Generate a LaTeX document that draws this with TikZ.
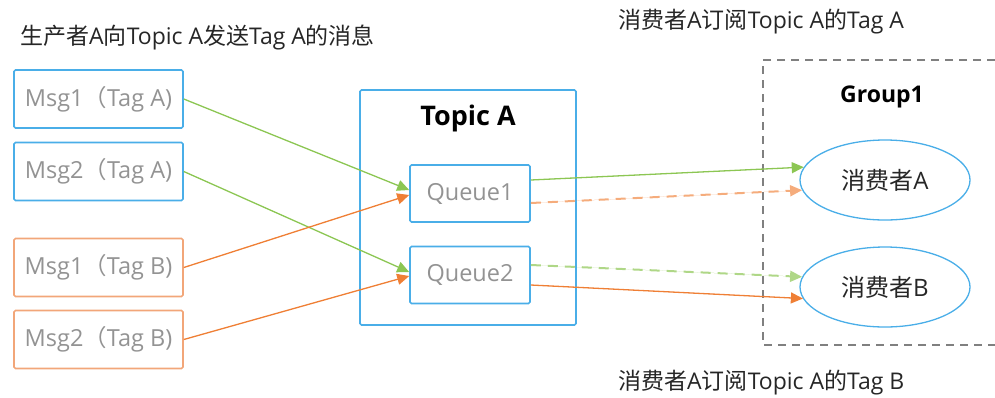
\documentclass[tikz,border=0pt]{standalone}
\usepackage{fontspec}
\setmainfont{Open Sans}
\newfontfamily\cjk{Noto Sans CJK SC}
\usetikzlibrary{shapes.geometric,arrows.meta}
\definecolor{bblue}{HTML}{4AAEE8}
\definecolor{oborder}{HTML}{F2A679}
\definecolor{oline}{HTML}{EF7F35}
\definecolor{gline}{HTML}{8CC653}
\definecolor{lgray}{HTML}{939393}
\tikzset{
  msgA/.style={draw=bblue,line width=1.6pt,rounded corners=1.5pt,minimum width=169pt,minimum height=58pt,text=lgray,font=\fontsize{23.5}{26}\selectfont,inner sep=0pt},
  msgB/.style={msgA,draw=oborder},
  queue/.style={msgA,minimum width=120pt,minimum height=57pt},
  cons/.style={ellipse,draw=bblue,line width=1.3pt,minimum width=170pt,minimum height=80pt,inner sep=0pt,font=\fontsize{24}{26}\selectfont,text=black!85},
  captxt/.style={anchor=west,inner sep=0pt,font=\fontsize{23}{26}\selectfont,text=black!85},
  arrtip/.style={-{Triangle[length=12pt,width=11pt]}},
  garr/.style={arrtip,draw=gline,fill=gline,line width=1.3pt},
  oarr/.style={arrtip,draw=oline,fill=oline,line width=1.3pt},
  dsh/.style={dash pattern=on 10pt off 7pt,line width=2pt}
}
\begin{document}
\begin{tikzpicture}[x=1pt,y=-1pt]
\useasboundingbox (0,0) rectangle (995,397);
% titles
\node[captxt] (t1) at (20,37) {{\cjk 生产者}A{\cjk 向}Topic A{\cjk 发送}Tag A{\cjk 的消息}};
\node[captxt] (t2) at (618,22) {{\cjk 消费者}A{\cjk 订阅}Topic A{\cjk 的}Tag A};
\node[captxt] (t3) at (618,383) {{\cjk 消费者}A{\cjk 订阅}Topic A{\cjk 的}Tag B};
% messages
\node[msgA] (m1) at (98.5,99) {Msg1{\cjk （}Tag A)};
\node[msgA] (m2) at (98.5,171.5) {Msg2{\cjk （}Tag A)};
\node[msgB] (m3) at (98.5,267.5) {Msg1{\cjk （}Tag B)};
\node[msgB] (m4) at (98.5,339.5) {Msg2{\cjk （}Tag B)};
% topic
\node[draw=bblue,line width=1.6pt,rounded corners=1.5pt,minimum width=216pt,minimum height=235pt,inner sep=0pt] (topic) at (468,207.5) {};
\node[font=\fontsize{27}{30}\selectfont\bfseries,inner sep=0pt] (tl) at (468,118) {Topic A};
\node[queue] (q1) at (470,193.5) {Queue1};
\node[queue] (q2) at (470,275) {Queue2};
% group
\coordinate (g1) at (995,60);
\coordinate (g2) at (763,60);
\coordinate (g3) at (763,345);
\coordinate (g4) at (995,345);
\draw[draw=black!50,line width=1.5pt,dash pattern=on 8pt off 6pt] (g1) -- (g2) -- (g3) -- (g4);
\node[font=\fontsize{23}{26}\selectfont\bfseries,inner sep=0pt] (gl) at (882,97) {Group1};
\node[cons] (ca) at (885,180) {{\cjk 消费者}A};
\node[cons] (cb) at (885,287) {{\cjk 消费者}B};
% arrows in
\draw[garr] (m1.east) -- ([yshift=3.5pt]q1.west);
\draw[garr] (m2.east) -- ([yshift=3pt]q2.west);
\draw[oarr] (m3.east) -- ([yshift=-1.5pt]q1.west);
\draw[oarr] (m4.east) -- ([yshift=-1pt]q2.west);
% arrows out
\draw[garr] ([yshift=13.5pt]q1.east) -- (ca.171);
\draw[oarr,dsh,draw=oline!65,fill=oline] ([yshift=-9.5pt]q1.east) -- (ca.187);
\draw[garr,dsh,draw=gline!70,fill=gline] ([yshift=10pt]q2.east) -- (cb.173);
\draw[oarr] ([yshift=-10pt]q2.east) -- (cb.188);
\end{tikzpicture}
\end{document}
